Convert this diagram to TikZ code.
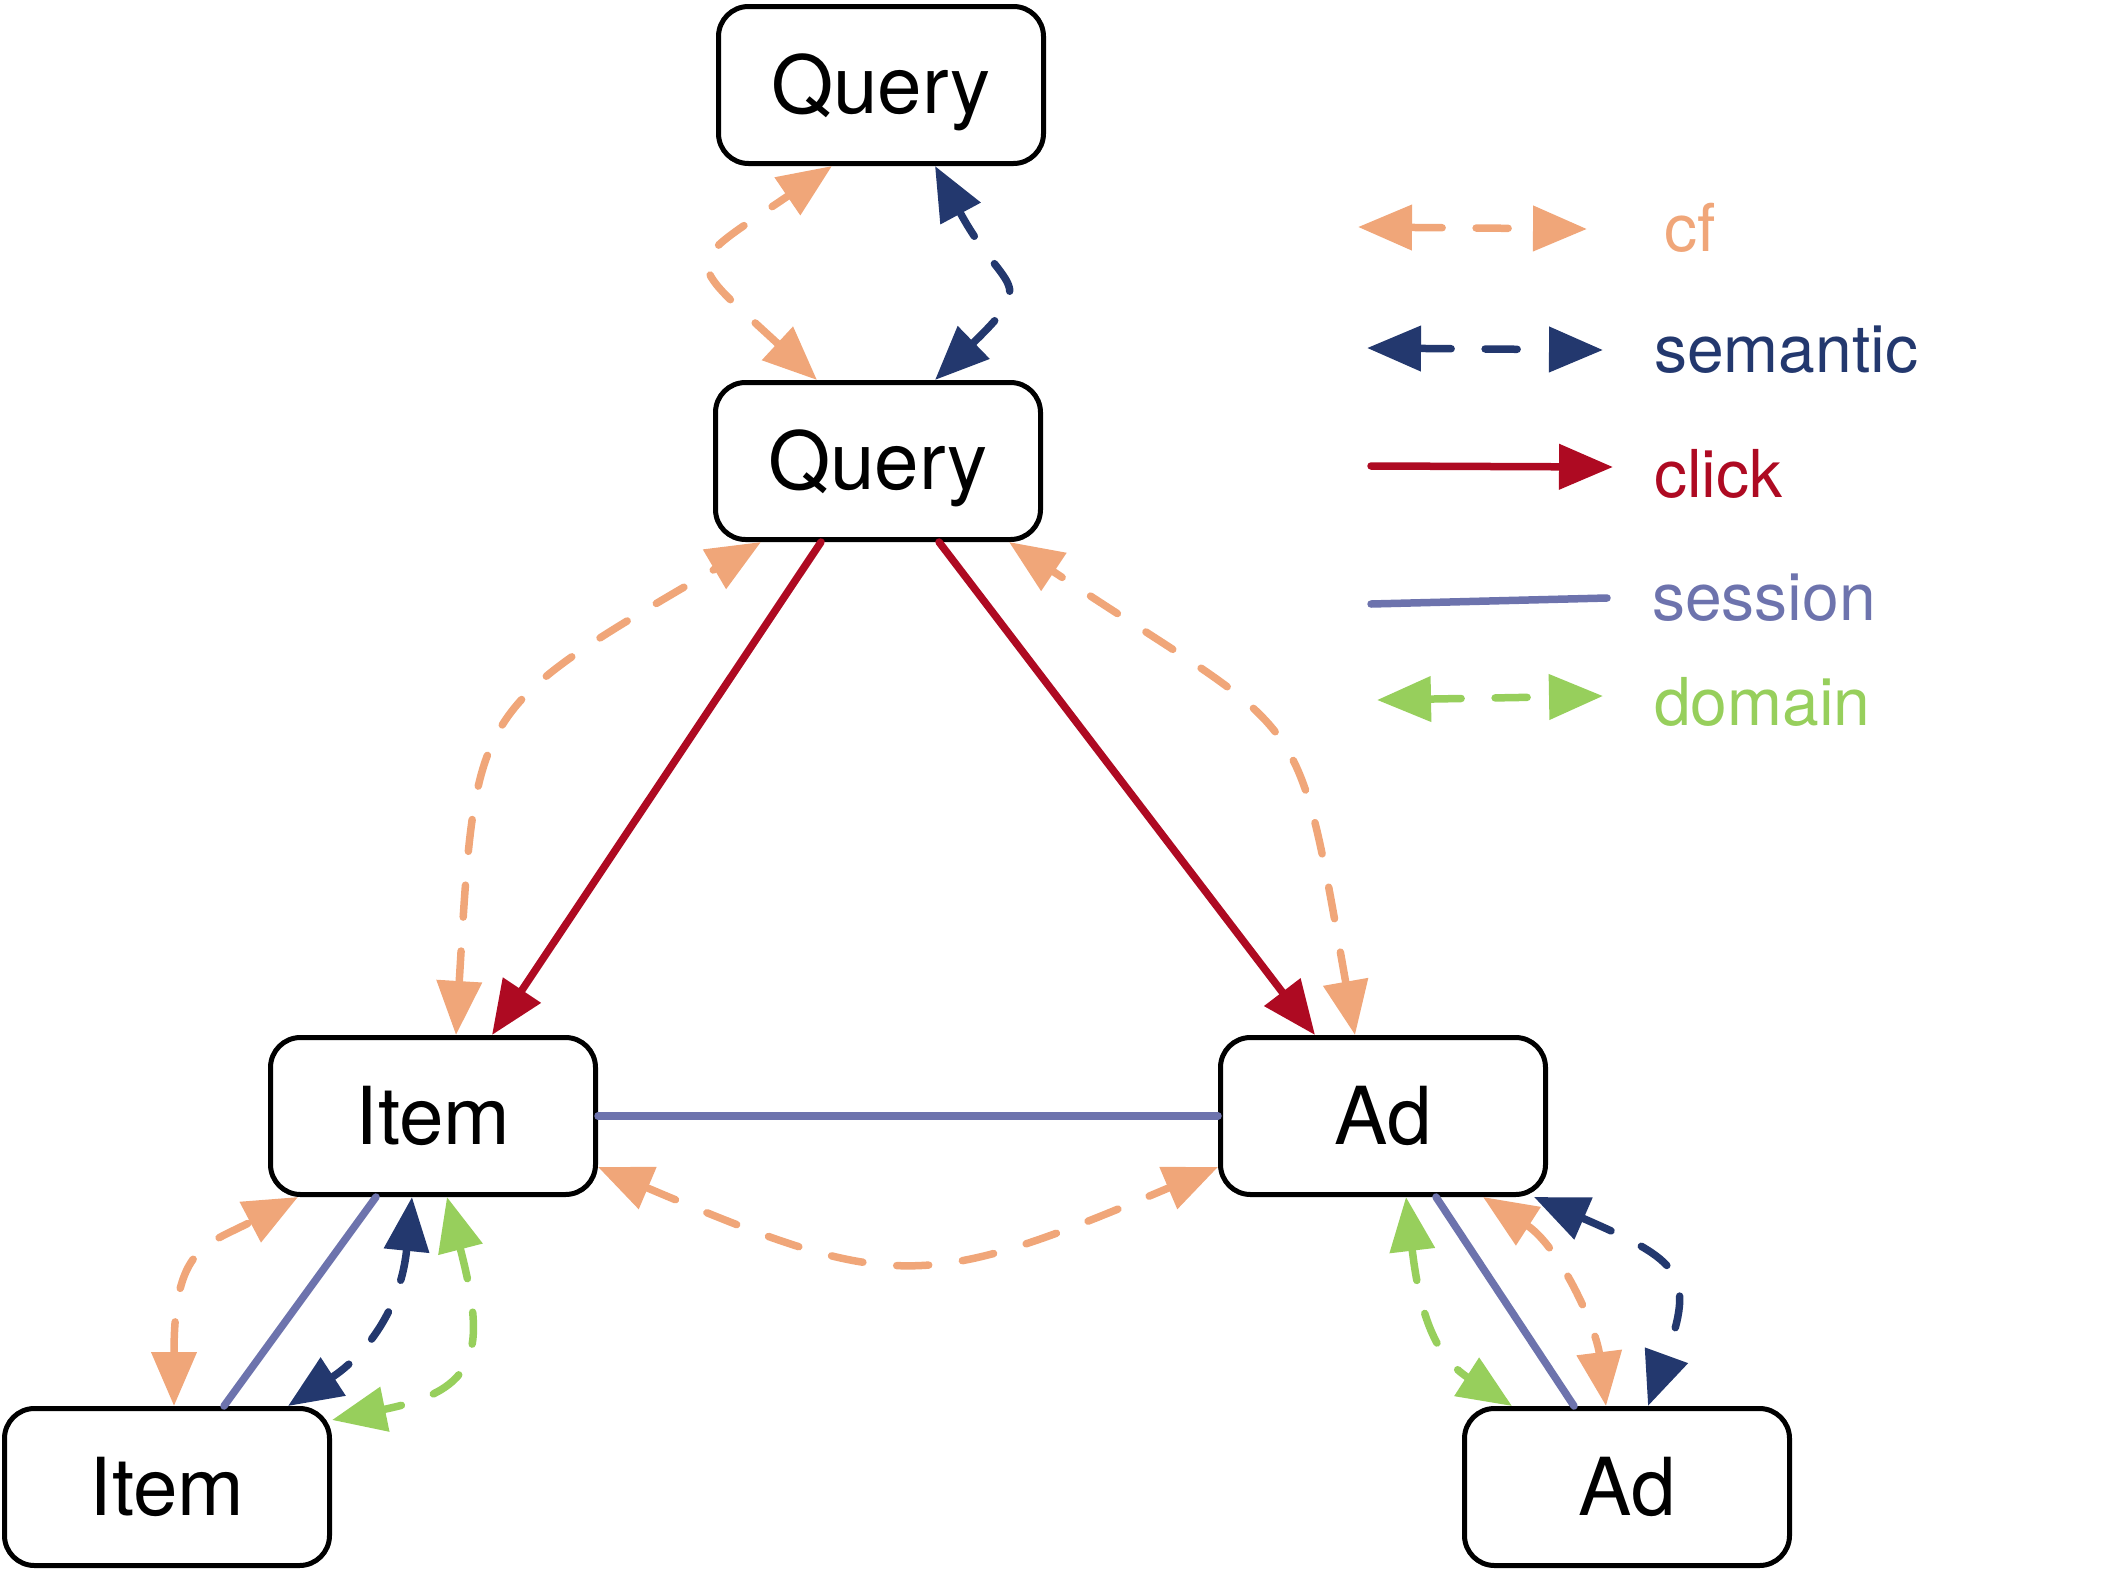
\documentclass[tikz,border=0pt]{standalone}
\usepackage{fontspec}
\setmainfont{TeX Gyre Heros}
\usetikzlibrary{arrows.meta}
\definecolor{cfc}{RGB}{240,166,121}
\definecolor{semc}{RGB}{35,56,110}
\definecolor{clkc}{RGB}{174,10,34}
\definecolor{sesc}{RGB}{109,115,173}
\definecolor{domc}{RGB}{151,207,92}
\begin{document}
\begin{tikzpicture}[x=1pt,y=-1pt,
  box/.style={draw=black, line width=5pt, rounded corners=30pt, minimum width=325pt,
    minimum height=157pt, inner sep=0pt, font=\fontsize{80}{96}\selectfont,
    text height=57pt, text depth=0pt},
  conn/.style={line width=7.5pt, line cap=round},
  dsh/.style={conn, dash pattern=on 32pt off 34pt},
  >={Triangle[length=54pt,width=44pt]},
  cfe/.style={dsh, color=cfc, <->},
  seme/.style={dsh, color=semc, <->},
  clke/.style={conn, color=clkc, ->},
  sese/.style={conn, color=sesc},
  dome/.style={dsh, color=domc, <->},
  leg/.style={anchor=base west, inner sep=0pt, font=\fontsize{66}{80}\selectfont}
]
\useasboundingbox (0,0) rectangle (2104,1574);

% nodes
\node[box] (qt) at (881,85) {Query};
\node[box] (qm) at (878,461) {Query};
\node[box] (it) at (433,1116) {Item};
\node[box] (ad) at (1383,1116) {Ad};
\node[box] (ib) at (167,1487) {Item};
\node[box] (ab) at (1627,1487) {Ad};

% Query - Query
\draw[cfe] ([xshift=-61pt]qm.north) .. controls +(-135,-125) and +(-150,102) .. ([xshift=-49pt]qt.south);
\draw[seme] ([xshift=57pt]qm.north) .. controls +(105,-102) and +(69,128) .. ([xshift=54pt]qt.south);

% click
\draw[clke] ([xshift=-57pt]qm.south) -- ([xshift=59pt]it.north);
\draw[clke] ([xshift=61pt]qm.south) -- ([xshift=-68pt]ad.north);

% cf query - item / ad
\draw[cfe] ([xshift=23pt]it.north) .. controls +(20,-330) and +(-290,170) .. ([xshift=-117pt]qm.south);
\draw[cfe] ([xshift=-28pt]ad.north) .. controls +(-60,-340) and +(300,200) .. ([xshift=131pt]qm.south);

% item - ad
\draw[sese] (it.east) -- (ad.west);
\draw[cfe] ([yshift=-51pt]it.east) .. controls +(295,125) and +(-295,125) .. ([yshift=-51pt]ad.west);

% item - item
\draw[cfe] ([xshift=7pt]ib.north) .. controls +(0,-160) and +(-93,49) .. ([xshift=-135pt]it.south);
\draw[sese] ([xshift=57pt]ib.north) -- ([xshift=-57pt]it.south);
\draw[seme] ([xshift=-21pt]it.south) .. controls +(-12,118) and +(72,-47) .. ([xshift=121pt]ib.north);
\draw[dome] ([xshift=14pt]it.south) .. controls +(40,155) and +(147,-30) .. ([yshift=67pt]ib.east);

% ad - ad
\draw[dome] ([xshift=23pt]ad.south) .. controls +(14,119) and +(-76,-49) .. ([xshift=-115pt]ab.north);
\draw[sese] ([xshift=53pt]ad.south) -- ([xshift=-53pt]ab.north);
\draw[cfe] ([xshift=100pt]ad.south) .. controls +(76,49) and +(-10,-79) .. ([xshift=-21pt]ab.north);
\draw[seme] ([xshift=151pt]ad.south) .. controls +(147,64) and +(48,-132) .. ([xshift=21pt]ab.north);

% legend
\coordinate (cfa) at (1358,227);  \coordinate (cfb) at (1587,229);
\coordinate (sma) at (1367,348);  \coordinate (smb) at (1603,350);
\coordinate (cka) at (1371,466);  \coordinate (ckb) at (1613,467);
\coordinate (ssa) at (1371,604);  \coordinate (ssb) at (1607,598);
\coordinate (dma) at (1377,700);  \coordinate (dmb) at (1603,696);
\draw[cfe] (cfa) -- (cfb);
\draw[seme] (sma) -- (smb);
\draw[clke] (cka) -- (ckb);
\draw[sese] (ssa) -- (ssb);
\draw[dome] (dma) -- (dmb);
\node[leg, text=cfc] (lcf) at (1664,251) {cf};
\node[leg, text=semc] (lsm) at (1654,372) {semantic};
\node[leg, text=clkc] (lck) at (1654,497) {click};
\node[leg, text=sesc] (lss) at (1652,620) {session};
\node[leg, text=domc] (ldm) at (1654,725) {domain};
\end{tikzpicture}
\end{document}
